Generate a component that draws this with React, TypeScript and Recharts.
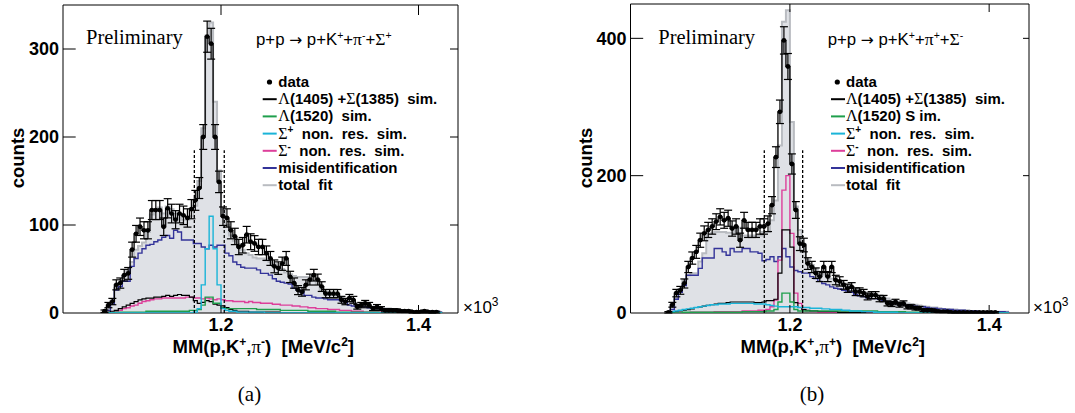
import React from 'react';
import {
  ComposedChart, Area, Line, Scatter, ErrorBar, XAxis, YAxis,
  ReferenceLine, ReferenceArea,
} from 'recharts';

// ---------- binning ----------
const BIN_WIDTH = 0.004;
const N_BINS = 86;
const L_START = 1.080;
const R_START = 1.076;

// ---------- panel (a): p+p -> p+K+ +pi- +Sigma+ ----------
const L_DATA = [2,9,13,32,34,43,45,72,90,98, 94,94,117,117,117,98,119,113,106,113, 111,108,118,128,142,200,314,306,200,149, 110,108,94,87,75,77,89,81,79,75, 75,68,62,53,51,56,62,41,34,26, 24,32,38,43,38,30,22,22,22,22, 15,13,17,15,7,9,11,9,5,7, 5,3,3,3,3,2,2,2,1,1, 1,2,1,1,1];
const L_ERR = [1.4,3,3.6,5.7,5.8,6.6,6.7,8.5,9.5,9.9, 9.7,9.7,10.8,10.8,10.8,9.9,10.9,10.6,10.3,10.6, 10.5,10.4,10.9,11.3,11.9,14.1,17.7,17.5,14.1,12.2, 10.5,10.4,9.7,9.3,8.7,8.8,9.4,9,8.9,8.7, 8.7,8.2,7.9,7.3,7.1,7.5,7.9,6.4,5.8,5.1, 4.9,5.7,6.2,6.6,6.2,5.5,4.7,4.7,4.7,4.7, 3.9,3.6,4.1,3.9,2.6,3,3.3,3,2.2,2.6, 2.2,1.7,1.7,1.7,1.7,1.4,1.4,1.4,1,1, 1,1.4,1,1,1];
const L_FIT = [1,6,14,28,34,42,48,58,72,76, 80,92,112,118,120,113,121,118,113,113, 106,106,110,122,150,210,315,330,240,162, 118,100,88,82,78,72,68,66,63,62, 62,60,58,56,53,50,46,44,42,41, 41,41,39,37,33,26,24,23,21,20, 18,14,13,12,10,9,9,8,7,6, 6,5,5,4,3,3,2,2,2,2, 2,2,2,2,2,1];
const L_MISID = [0,3,10,26,30,36,36,53,62,68, 73,77,78,81,83,86,88,85,94,92, 83,83,83,79,79,75,73,77,75,77, 77,68,65,58,55,52,51,51,51,49, 45,45,43,39,36,35,34,33,28,26, 24,20,20,18,17,17,16,15,15,15, 14,13,9,8,7,7,7,6,6,5, 5,4,4,3,3,3,2,2,2,2, 2,2,2,2,2,1];
const L_L1405 = [0,1,2,3,5,7,9,11,13,15, 16,17,17,18,18,19,20,19,20,21, 20,20,18,14,11,12,14,13,10,9, 8,6,4,3,2,2,2,1,1,1, 1,1,1,1,1,0,0,0,0,0, 0,0,0,0,0,0,0,0,0,0, 0,0,0,0,0,0,0,0,0,0, 0,0,0,0,0,0,0,0,0,0, 0,0,0,0,0,0];
const L_SIGM = [0,0,1,2,3,5,6,8,9,11, 13,14,15,16,16,17,17,17,17,17, 17,18,18,17,17,16,17,16,15,16, 15,14,14,13,13,13,12,13,12,12, 11,11,11,10,10,9,9,9,8,8, 7,7,6,6,5,5,5,4,4,4, 3,3,3,2,2,2,1,1,1,1, 1,0,0,0,0,0,0,0,0,0, 0,0,0,0,0,0];
const L_L1520 = [0,0,0,1,1,1,1,1,1,1, 1,2,2,2,2,2,2,2,2,2, 2,2,3,3,4,9,18,18,11,11, 6,5,5,5,5,5,5,5,5,4, 4,4,4,4,4,3,3,3,3,3, 3,3,2,2,2,2,2,2,2,1, 1,1,1,1,1,1,1,1,1,1, 0,0,0,0,0,0,0,0,0,0, 0,0,0,0,0,0];
const L_SIGP = [0,0,0,0,0,0,0,0,0,0, 0,0,0,0,0,0,0,0,0,0, 0,0,0,1,5,32,73,110,73,32, 5,3,2,2,1,1,1,1,1,1, 1,0,0,0,0,0,0,0,0,0, 0,0,0,0,0,0,0,0,0,0, 0,0,0,0,0,0,0,0,0,0, 0,0,0,0,0,0,0,0,0,0, 0,0,0,0,0,0];

// ---------- panel (b): p+p -> p+K+ +pi+ +Sigma- ----------
const R_DATA = [1,12,29,33,43,67,80,89,106,116, 121,126,133,140,135,138,123,126,106,135, 121,121,121,126,126,130,157,227,293,397, 359,217,150,101,99,72,67,58,53,67, 53,67,48,46,41,36,38,31,31,29, 24,26,26,21,21,14,13,16,12,14, 9,9,7,7,4,4,4,3,2,2, 2,1,1,1,1,1,1,1,1,1, 1,1,1];
const R_ERR = [1,3.5,5.4,5.7,6.6,8.2,8.9,9.4,10.3,10.8, 11,11.2,11.5,11.8,11.6,11.7,11.1,11.2,10.3,11.6, 11,11,11,11.2,11.2,11.4,12.5,15.1,17.1,19.9, 18.9,14.7,12.2,10,9.9,8.5,8.2,7.6,7.3,8.2, 7.3,8.2,6.9,6.8,6.4,6,6.2,5.6,5.6,5.4, 4.9,5.1,5.1,4.6,4.6,3.7,3.6,4,3.5,3.7, 3,3,2.6,2.6,2,2,2,1.7,1.4,1.4, 1.4,1,1,1,1,1,1,1,1,1, 1,1,1];
const R_FIT = [1,10,22,35,48,55,58,58,75,87, 116,116,118,118,118,117,117,124,124,113, 113,113,113,113,118,118,135,164,244,424, 441,278,155,121,100,78,70,65,60,56, 53,50,47,45,43,41,38,35,33,31, 29,28,27,25,23,21,19,18,16,15, 14,13,12,11,10,9,8,8,7,6, 6,5,5,4,4,4,3,3,3,3, 2,2,2,2,2,2];
const R_MISID = [0,5,20,30,40,55,55,55,65,80, 80,80,94,94,89,84,94,89,89,94, 94,89,89,87,76,78,82,75,82,94, 82,67,62,60,58,58,53,50,46,43, 41,38,36,35,33,32,30,27,25,24, 22,21,21,20,18,16,15,14,12,12, 11,11,10,9,9,8,7,7,6,6, 5,5,4,4,4,3,3,3,2,2, 2,2,2,2,2,1];
const R_L1405 = [0,1,2,3,4,5,6,8,9,10, 11,12,13,14,14,15,16,16,16,16, 16,16,15,15,16,18,18,20,58,121, 121,96,15,8,5,4,3,3,2,2, 2,2,2,1,1,1,1,1,1,1, 0,0,0,0,0,0,0,0,0,0, 0,0,0,0,0,0,0,0,0,0, 0,0,0,0,0,0,0,0,0,0, 0,0,0,0,0,0];
const R_SIGM = [0,0,0,0,0,0,1,1,1,1, 1,1,2,2,2,2,2,2,2,3, 3,3,3,4,4,5,9,19,77,179, 200,116,29,14,5,3,2,2,1,1, 1,1,1,1,1,0,0,0,0,0, 0,0,0,0,0,0,0,0,0,0, 0,0,0,0,0,0,0,0,0,0, 0,0,0,0,0,0,0,0,0,0, 0,0,0,0,0,0];
const R_SIGP = [0,2,3,4,5,6,7,8,9,10, 11,12,12,13,13,13,14,14,14,14, 14,14,13,13,13,12,11,10,9,9, 9,9,9,8,8,8,7,7,7,6, 6,5,5,5,4,4,3,3,3,2, 2,2,1,1,1,1,1,1,0,0, 0,0,0,0,0,0,0,0,0,0, 0,0,0,0,0,0,0,0,0,0, 0,0,0,0,0,0];
const R_L1520 = [0,0,0,0,1,1,1,1,1,1, 1,1,1,1,1,1,1,1,1,2, 2,2,2,2,2,3,3,5,16,29, 29,16,5,3,3,3,3,3,3,3, 3,3,3,3,3,3,3,3,3,3, 3,3,3,2,2,2,2,2,2,2, 1,1,1,1,1,1,0,0,0,0, 0,0,0,0,0,0,0,0,0,0, 0,0,0,0,0,0];

// ---------- axis ticks ----------
const X_TICKS = [1.2, 1.4];
const L_Y_TICKS = [0, 100, 200, 300];
const R_Y_TICKS = [0, 200, 400];

// ---------- colours ----------
const C_FIT_FILL = '#dfe1e6';
const C_FIT_LINE = '#b9bcc1';
const C_MISID = '#333399';
const C_SIGM = '#dd3f9a';
const C_SIGP = '#1ab4d8';
const C_L1520 = '#1f9f4c';
const C_L1405 = '#000000';

const SANS = "'Liberation Sans', Arial, Helvetica, sans-serif";
const SERIF = "'Liberation Serif', 'Times New Roman', serif";

type Series = Record<string, number[]>;

function edgeRows(start: number, series: Series) {
  const rows: any[] = [];
  for (let i = 0; i <= N_BINS; i++) {
    const row: any = { x: +(start + i * BIN_WIDTH).toFixed(4) };
    for (const k of Object.keys(series)) {
      const arr = series[k];
      row[k] = i < arr.length ? arr[i] : i === arr.length ? arr[i - 1] : null;
    }
    rows.push(row);
  }
  return rows;
}

function pointRows(start: number, vals: number[], errs: number[]) {
  return vals.map((v, i) => ({ x: +(start + (i + 0.5) * BIN_WIDTH).toFixed(4), y: v, err: errs[i] }));
}

const CH = 413;
const Y_AXIS_W = 40;
const X_AXIS_H = 30;

type PanelProps = {
  left: number;
  width: number;
  margin: { top: number; right: number; bottom: number; left: number };
  rows: any[];
  points: any[];
  xDomain: [number, number];
  yMax: number;
  yTicks: number[];
  dashX: number[];
  dashTop: number;
  tickLen: { left: number; right: number; top: number; bottom: number };
};

function Panel(p: PanelProps) {
  const plotW = p.width - p.margin.left - Y_AXIS_W - p.margin.right;
  const plotH = CH - p.margin.top - p.margin.bottom - X_AXIS_H;
  const pxX = plotW / (p.xDomain[1] - p.xDomain[0]);
  const pxY = plotH / p.yMax;
  const [x0, x1] = p.xDomain;
  const tickFont = { fontSize: 18, fontWeight: 'bold', fill: '#000', fontFamily: SANS } as any;
  const dot = (props: any) => <circle cx={props.cx} cy={props.cy} r={2.4} fill="#000" />;
  return (
    <div style={{ position: 'absolute', left: p.left, top: 0 }}>
      <ComposedChart width={p.width} height={CH} data={p.rows} margin={p.margin}>
        <XAxis
          type="number" dataKey="x" domain={p.xDomain} allowDataOverflow
          ticks={X_TICKS} tickFormatter={(v: number) => v.toFixed(1)}
          tickLine={false} axisLine={false} tickSize={0} tickMargin={5}
          height={X_AXIS_H} tick={tickFont} interval={0}
        />
        <YAxis
          type="number" domain={[0, p.yMax]} allowDataOverflow ticks={p.yTicks}
          tickLine={false} axisLine={false} tickSize={0} tickMargin={4}
          width={Y_AXIS_W} tick={tickFont} interval={0}
        />
        <Area type="stepAfter" dataKey="fit" stroke={C_FIT_LINE} strokeWidth={2}
          fill={C_FIT_FILL} fillOpacity={1} isAnimationActive={false} dot={false} activeDot={false} />
        <Line type="stepAfter" dataKey="misid" stroke={C_MISID} strokeWidth={1.4} dot={false} activeDot={false} isAnimationActive={false} />
        <Line type="stepAfter" dataKey="sigm" stroke={C_SIGM} strokeWidth={1.4} dot={false} activeDot={false} isAnimationActive={false} />
        <Line type="stepAfter" dataKey="l1405" stroke={C_L1405} strokeWidth={1.2} dot={false} activeDot={false} isAnimationActive={false} />
        <Line type="stepAfter" dataKey="l1520" stroke={C_L1520} strokeWidth={1.4} dot={false} activeDot={false} isAnimationActive={false} />
        <Line type="stepAfter" dataKey="sigp" stroke={C_SIGP} strokeWidth={1.4} dot={false} activeDot={false} isAnimationActive={false} />
        <Line type="stepAfter" dataKey="data" stroke="#000" strokeWidth={1.3} dot={false} activeDot={false} isAnimationActive={false} />
        <Scatter data={p.points} dataKey="y" shape={dot} isAnimationActive={false}>
          <ErrorBar dataKey="err" direction="y" width={4} stroke="#000" strokeWidth={1.2} />
        </Scatter>
        {p.dashX.map((x) => (
          <ReferenceLine key={'d' + x} segment={[{ x, y: 0 }, { x, y: p.dashTop }]}
            stroke="#000" strokeWidth={1.3} strokeDasharray="3 2" />
        ))}
        {p.yTicks.filter((t) => t > 0).map((t) => (
          <ReferenceLine key={'yl' + t} segment={[{ x: x0, y: t }, { x: x0 + p.tickLen.left / pxX, y: t }]}
            stroke="#000" strokeWidth={1} />
        ))}
        {p.yTicks.filter((t) => t > 0).map((t) => (
          <ReferenceLine key={'yr' + t} segment={[{ x: x1 - p.tickLen.right / pxX, y: t }, { x: x1, y: t }]}
            stroke="#000" strokeWidth={1} />
        ))}
        {X_TICKS.map((t) => (
          <ReferenceLine key={'xt' + t} segment={[{ x: t, y: p.yMax - p.tickLen.top / pxY }, { x: t, y: p.yMax }]}
            stroke="#000" strokeWidth={1} />
        ))}
        {X_TICKS.map((t) => (
          <ReferenceLine key={'xb' + t} segment={[{ x: t, y: 0 }, { x: t, y: p.tickLen.bottom / pxY }]}
            stroke="#000" strokeWidth={1} />
        ))}
        <ReferenceArea x1={x0} x2={x1} y1={0} y2={p.yMax} fill="none" fillOpacity={0}
          stroke="#000" strokeWidth={1} />
      </ComposedChart>
    </div>
  );
}

// ---------- rich text (superscripts / Greek in serif) ----------
type Seg = { t: string; sup?: boolean; serif?: boolean; size?: number; font?: string };

function Rich({ segs, supSize, up }: { segs: Seg[]; supSize: number; up: number }) {
  let cur = 0;
  return (
    <>
      {segs.map((s, i) => {
        const target = s.sup ? -up : 0;
        const dy = target - cur;
        cur = target;
        return (
          <tspan
            key={i}
            dy={dy !== 0 ? dy : undefined}
            fontSize={s.sup ? supSize : s.size}
            fontFamily={s.font ? s.font : s.serif ? SERIF : undefined}
            fontWeight={s.serif ? 'normal' : undefined}
          >
            {s.t}
          </tspan>
        );
      })}
    </>
  );
}

function Legend({ lineX, bulletX, textX, l1520Text }: { lineX: number; bulletX: number; textX: number; l1520Text: string }) {
  const base = 87;
  const step = 17.2;
  const G = 16;
  const items: { color: string | null; segs: Seg[] }[] = [
    { color: null, segs: [{ t: 'data' }] },
    { color: C_L1405, segs: [{ t: 'Λ', serif: true, size: G }, { t: '(1405) +' }, { t: 'Σ', serif: true, size: G }, { t: '(1385)  sim.' }] },
    { color: C_L1520, segs: [{ t: 'Λ', serif: true, size: G }, { t: l1520Text }] },
    { color: C_SIGP, segs: [{ t: 'Σ', serif: true, size: G }, { t: '+', sup: true }, { t: '  non.  res.  sim.' }] },
    { color: C_SIGM, segs: [{ t: 'Σ', serif: true, size: G }, { t: '-', sup: true }, { t: '  non.  res.  sim.' }] },
    { color: C_MISID, segs: [{ t: 'misidentification' }] },
    { color: C_FIT_LINE, segs: [{ t: 'total  fit' }] },
  ];
  return (
    <g>
      {items.map((it, k) => {
        const y = base + k * step;
        return (
          <g key={k}>
            {it.color === null ? (
              <circle cx={bulletX} cy={y - 5} r={2.6} fill="#000" />
            ) : (
              <line x1={lineX} x2={lineX + 14} y1={y - 5} y2={y - 5} stroke={it.color} strokeWidth={2} />
            )}
            <text x={textX} y={y} fontFamily={SANS} fontWeight="bold" fontSize={15} fill="#000" style={{ whiteSpace: 'pre' }}>
              <Rich segs={it.segs} supSize={10} up={6} />
            </text>
          </g>
        );
      })}
    </g>
  );
}

function Overlay() {
  const xlabel = (x: number, sign: string) => (
    <text x={x} y={353} fontFamily={SANS} fontWeight="bold" fontSize={18.5} fill="#000" style={{ whiteSpace: 'pre' }}>
      <Rich supSize={12} up={7} segs={[
        { t: 'MM(p,K' }, { t: '+', sup: true }, { t: ',' }, { t: 'π', serif: true, size: 19 },
        { t: sign, sup: true }, { t: ')  [MeV/c' }, { t: '2', sup: true }, { t: ']' },
      ]} />
    </text>
  );
  const reaction = (x: number, s1: string, s2: string) => (
    <text x={x} y={45} fontFamily={SANS} fontSize={16.8} fill="#000" style={{ whiteSpace: 'pre' }}>
      <Rich supSize={10.5} up={6} segs={[
        { t: 'p+p ' }, { t: '→', font: "'DejaVu Sans', sans-serif", size: 15.5 }, { t: ' p+K' }, { t: '+', sup: true },
        { t: '+' }, { t: 'π', serif: true, size: 17.5 }, { t: s1, sup: true }, { t: '+' },
        { t: 'Σ', serif: true, size: 17.5 }, { t: s2, sup: true },
      ]} />
    </text>
  );
  const counts = (x: number) => (
    <text transform={`translate(${x},158) rotate(-90)`} textAnchor="middle" fontFamily={SANS} fontWeight="bold" fontSize={18.5} fill="#000">counts</text>
  );
  const times = (x: number) => (
    <text x={x} y={313} fontFamily={SANS} fontSize={17} fill="#000">
      <Rich supSize={12} up={7} segs={[{ t: '×10' }, { t: '3', sup: true }]} />
    </text>
  );
  return (
    <svg width={1075} height={413} style={{ position: 'absolute', left: 0, top: 0, pointerEvents: 'none' }}>
      {counts(24)}
      {counts(592)}
      {xlabel(172.5, '-')}
      {xlabel(740.5, '+')}
      {times(463)}
      {times(1033)}
      <text x={249.5} y={401} textAnchor="middle" fontFamily={SERIF} fontSize={21} fill="#000">(a)</text>
      <text x={812} y={401} textAnchor="middle" fontFamily={SERIF} fontSize={21} fill="#000">(b)</text>
      <text x={86} y={43.5} fontFamily={SERIF} fontSize={20.5} fill="#000">Preliminary</text>
      <text x={658.3} y={43.5} fontFamily={SERIF} fontSize={20.5} fill="#000">Preliminary</text>
      {reaction(256, '-', '+')}
      {reaction(827.7, '+', '-')}
      <Legend lineX={262.7} bulletX={269.5} textX={278.3} l1520Text={'(1520)  sim.'} />
      <Legend lineX={831} bulletX={837.3} textX={846} l1520Text={'(1520) S im.'} />
    </svg>
  );
}

const LEFT_ROWS = edgeRows(L_START, {
  fit: L_FIT, misid: L_MISID, l1405: L_L1405, l1520: L_L1520, sigp: L_SIGP, sigm: L_SIGM, data: L_DATA,
});
const RIGHT_ROWS = edgeRows(R_START, {
  fit: R_FIT, misid: R_MISID, l1405: R_L1405, l1520: R_L1520, sigp: R_SIGP, sigm: R_SIGM, data: R_DATA,
});
const LEFT_POINTS = pointRows(L_START, L_DATA, L_ERR);
const RIGHT_POINTS = pointRows(R_START, R_DATA, R_ERR);

export default function App() {
  return (
    <div style={{ position: 'absolute', left: 0, top: 0, width: 1075, height: 413, background: '#fff', overflow: 'hidden' }}>
      <Panel
        left={0} width={530}
        margin={{ top: 5, right: 72, bottom: 70, left: 23 }}
        rows={LEFT_ROWS} points={LEFT_POINTS}
        xDomain={[1.04, 1.44]} yMax={350} yTicks={L_Y_TICKS}
        dashX={[1.173, 1.2033]} dashTop={185}
        tickLen={{ left: 12.7, right: 8, top: 10, bottom: 8 }}
      />
      <Panel
        left={560} width={515}
        margin={{ top: 4, right: 46, bottom: 70, left: 30.5 }}
        rows={RIGHT_ROWS} points={RIGHT_POINTS}
        xDomain={[1.04, 1.44]} yMax={450} yTicks={R_Y_TICKS}
        dashX={[1.1743, 1.2128]} dashTop={237}
        tickLen={{ left: 12.7, right: 6, top: 8, bottom: 8 }}
      />
      <Overlay />
    </div>
  );
}
